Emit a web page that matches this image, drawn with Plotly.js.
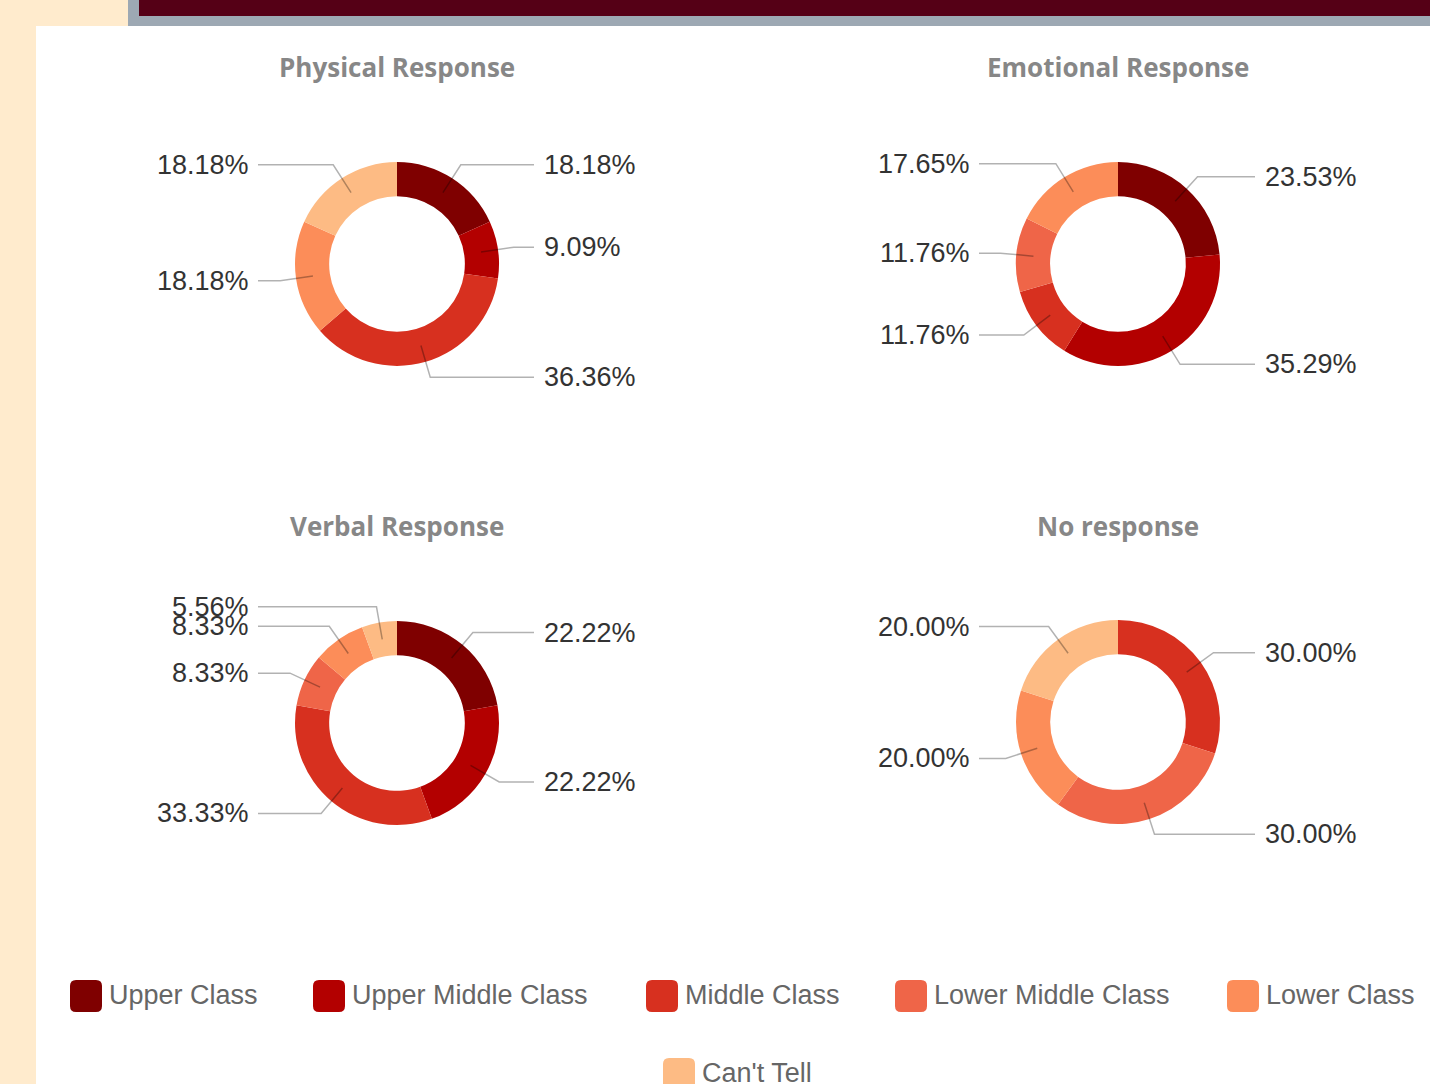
<!DOCTYPE html>
<html>
<head>
<meta charset="utf-8">
<script src="https://cdn.plot.ly/plotly-3.0.1.min.js"></script>
<style>
html,body{margin:0;padding:0;width:1430px;height:1084px;overflow:hidden;background:#FFEBCD;}
.blk{position:absolute;}
</style>
</head>
<body>
<div class="blk" style="left:36px;top:26px;width:1394px;height:1058px;background:#ffffff"></div>
<div class="blk" style="left:128px;top:0;width:1302px;height:26px;background:#9DA8B3"></div>
<div class="blk" style="left:139px;top:0;width:1291px;height:16px;background:#550016"></div>
<div id="chart" class="blk" style="left:0;top:0;width:1430px;height:1084px"></div>
<script>
// ---- data ----
const categories = ["Upper Class", "Upper Middle Class", "Middle Class", "Lower Middle Class", "Lower Class", "Can't Tell"];
const colors = ["#7F0000", "#B30000", "#D7301F", "#EF6548", "#FC8D59", "#FDBB84"];
const chartTitles = ["Physical Response", "Emotional Response", "Verbal Response", "No response"];
const physical  = [18.18, 9.09, 36.36, 0, 18.18, 18.18];
const emotional = [23.53, 35.29, 11.76, 11.76, 17.65, 0];
const verbal    = [22.22, 22.22, 33.33, 8.33, 8.33, 5.56];
const noResponse = [0, 0, 30.00, 30.00, 20.00, 20.00];
const seriesList = [physical, emotional, verbal, noResponse];

// ---- layout (pixel geometry) ----
const W = 1430, H = 1084;
const centers = [[397, 264], [1118, 264], [397, 723], [1118, 722]];
const titleY = [67, 67, 526, 526];
const R = 102, HOLE = 0.665;
const legendX = [70, 313, 646, 895, 1227, 663];
const legendY = [996, 996, 996, 996, 996, 1074];
const SW = 32;

const fx = x => x / W;
const fy = y => 1 - y / H;

const traces = [];
const shapes = [];
const annotations = [];

seriesList.forEach((vals, i) => {
  const [cx, cy] = centers[i];
  traces.push({
    type: 'pie',
    values: vals,
    labels: categories,
    marker: {colors: colors, line: {width: 0}},
    hole: HOLE,
    sort: false,
    direction: 'clockwise',
    rotation: 0,
    textinfo: 'none',
    hoverinfo: 'label+percent',
    showlegend: false,
    domain: {x: [fx(cx - R), fx(cx + R)], y: [fy(cy + R), fy(cy - R)]}
  });
  annotations.push({
    xref: 'paper', yref: 'paper', x: fx(cx), y: fy(titleY[i]),
    xanchor: 'center', yanchor: 'middle', showarrow: false,
    text: chartTitles[i],
    font: {family: 'Open Sans', size: 26, color: '#878787', weight: 700}
  });
  const total = vals.reduce((a, b) => a + b, 0);
  let cum = 0;
  vals.forEach((v, k) => {
    if (v <= 0) { return; }
    const mid = (cum + v / 2) / total * 2 * Math.PI;
    cum += v;
    const s = Math.sin(mid), c = Math.cos(mid);
    const rMid = R * (1 + HOLE) / 2, rEl = R * 1.157;
    const x0 = cx + rMid * s, y0 = cy - rMid * c;
    const x1 = cx + rEl * s, y1 = cy - rEl * c;
    const right = s >= 0;
    const x2 = right ? cx + 137 : cx - 139;
    shapes.push({
      type: 'path', xref: 'paper', yref: 'paper',
      path: `M ${fx(x0)} ${fy(y0)} L ${fx(x1)} ${fy(y1)} L ${fx(x2)} ${fy(y1)}`,
      line: {color: 'rgba(0,0,0,0.3)', width: 1.5}
    });
    annotations.push({
      xref: 'paper', yref: 'paper',
      x: fx(right ? cx + 145 : cx - 146), y: fy(y1),
      xanchor: right ? 'left' : 'right', yanchor: 'middle', showarrow: false,
      text: v.toFixed(2) + '%',
      font: {family: 'Liberation Sans', size: 27, color: '#333333'}
    });
  });
});

// custom legend
categories.forEach((name, k) => {
  const x = legendX[k], y = legendY[k] - SW / 2, r = 6;
  const p = [
    `M ${fx(x + r)} ${fy(y)}`,
    `L ${fx(x + SW - r)} ${fy(y)}`,
    `Q ${fx(x + SW)} ${fy(y)} ${fx(x + SW)} ${fy(y + r)}`,
    `L ${fx(x + SW)} ${fy(y + SW - r)}`,
    `Q ${fx(x + SW)} ${fy(y + SW)} ${fx(x + SW - r)} ${fy(y + SW)}`,
    `L ${fx(x + r)} ${fy(y + SW)}`,
    `Q ${fx(x)} ${fy(y + SW)} ${fx(x)} ${fy(y + SW - r)}`,
    `L ${fx(x)} ${fy(y + r)}`,
    `Q ${fx(x)} ${fy(y)} ${fx(x + r)} ${fy(y)}`, 'Z'
  ].join(' ');
  shapes.push({type: 'path', xref: 'paper', yref: 'paper', path: p,
    fillcolor: colors[k], line: {width: 0}});
  annotations.push({
    xref: 'paper', yref: 'paper', x: fx(x + 37), y: fy(legendY[k] - 1),
    xanchor: 'left', yanchor: 'middle', showarrow: false,
    text: name,
    font: {family: 'Liberation Sans', size: 27, color: '#666666'}
  });
});

const layout = {
  width: W, height: H,
  margin: {l: 0, r: 0, t: 0, b: 0},
  paper_bgcolor: 'rgba(0,0,0,0)',
  plot_bgcolor: 'rgba(0,0,0,0)',
  showlegend: false,
  shapes: shapes,
  annotations: annotations
};
Plotly.newPlot('chart', traces, layout, {displayModeBar: false, staticPlot: true});
</script>
</body>
</html>
